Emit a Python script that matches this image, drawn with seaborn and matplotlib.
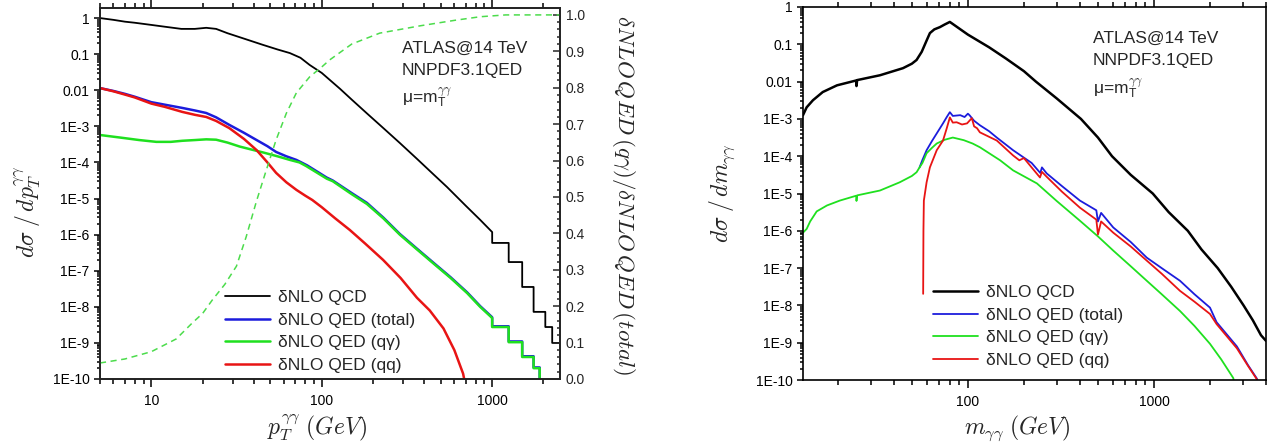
import numpy as np
import matplotlib
matplotlib.use("Agg")
import matplotlib.pyplot as plt
import seaborn as sns
from matplotlib.lines import Line2D
from matplotlib.ticker import (FixedLocator, FixedFormatter, LogLocator,
                               NullFormatter, MultipleLocator, FormatStrFormatter)

# ---------------- data (log10 of the cross sections) ----------------
# left panel: pT spectrum
pt_qcd = [5, 6, 7, 8, 10, 12, 15, 18, 21, 24, 28, 35, 45, 55, 65, 75, 85, 100, 128, 150,
          184, 230, 287, 360, 450, 543, 700, 850, 1000]
qcd_pt_log = [0.0, -0.05, -0.10, -0.13, -0.19, -0.24, -0.30, -0.30, -0.27, -0.30, -0.42,
              -0.57, -0.74, -0.87, -0.97, -1.10, -1.30, -1.52, -1.96, -2.26, -2.64, -3.05,
              -3.46, -3.89, -4.32, -4.68, -5.20, -5.59, -5.93]
qcd_pt_edges = [1000, 1250, 1500, 1750, 2050, 2250, 2500]
qcd_pt_tail = [-6.23, -6.76, -7.45, -8.14, -8.56, -9.0]

pt_qa = [5, 6.8, 8.5, 10.7, 13, 15.2, 18, 21, 24, 28, 33, 40, 45, 55, 65, 74, 81, 95, 107,
         116, 150, 184, 230, 287, 360, 450, 570, 713, 850, 1000]
qa_pt_log = [-3.24, -3.32, -3.38, -3.43, -3.43, -3.40, -3.38, -3.36, -3.37, -3.45, -3.56,
             -3.66, -3.72, -3.83, -3.93, -4.00, -4.10, -4.30, -4.45, -4.52, -4.88, -5.15,
             -5.55, -6.00, -6.40, -6.79, -7.20, -7.62, -8.00, -8.31]
qa_pt_edges = [1000, 1250, 1500, 1750, 1900, 2100]
qa_pt_tail = [-8.56, -8.98, -9.39, -9.70, -10.5]

pt_tot = [5, 6, 7, 8, 10, 12, 15.2, 18, 21, 24, 28.7, 35, 41.5, 48, 54, 62, 71, 82, 93,
          107, 116, 150, 184, 230, 287, 360, 450, 570, 713, 850, 1000]
tot_pt_log = [-1.94, -2.02, -2.10, -2.18, -2.33, -2.40, -2.49, -2.56, -2.63, -2.75, -2.96,
              -3.18, -3.38, -3.55, -3.71, -3.83, -3.93, -4.08, -4.24, -4.42, -4.50, -4.85,
              -5.12, -5.53, -5.98, -6.38, -6.77, -7.18, -7.60, -7.98, -8.29]
tot_pt_edges = [1000, 1250, 1500, 1750, 1900, 2100]
tot_pt_tail = [-8.54, -8.96, -9.37, -9.68, -10.5]

pt_qq = [5, 6, 7, 8, 10, 12, 15.2, 18, 21, 24, 28.7, 35, 41.5, 48, 54, 62, 71, 80, 88,
         100, 120, 146, 180, 229, 290, 362, 430, 518, 600, 675, 720]
qq_pt_log = [-1.94, -2.03, -2.12, -2.20, -2.37, -2.46, -2.60, -2.68, -2.74, -2.85, -3.05,
             -3.35, -3.66, -4.00, -4.29, -4.55, -4.76, -4.92, -5.04, -5.24, -5.55, -5.87,
             -6.25, -6.70, -7.20, -7.75, -8.10, -8.60, -9.20, -9.85, -10.5]

# ratio qγ / total (right axis of the left panel)
pt_ratio = [5, 7, 10, 14, 17.4, 20, 22.8, 27, 31.6, 36, 41.5, 47, 54, 62, 71, 85, 100,
            111, 150, 219, 377, 600, 850, 1200, 2500]
ratio = [0.044, 0.055, 0.075, 0.11, 0.154, 0.18, 0.217, 0.26, 0.31, 0.39, 0.49, 0.57,
         0.657, 0.73, 0.786, 0.83, 0.857, 0.876, 0.92, 0.95, 0.97, 0.985, 0.995, 1.0, 1.0]

# right panel: invariant mass spectrum
m_qcd = [13, 13.6, 14.7, 16.6, 19.8, 25.1, 25.2, 25.4, 33.7, 44.8, 50, 53, 56.5, 60, 62.5,
         66, 70.7, 75, 80, 100, 130, 160, 200, 232, 300, 405, 500, 595, 750, 985, 1200,
         1520, 1800, 2200, 2600, 3030, 3400, 3760, 4000]
qcd_m_log = [-2.90, -2.69, -2.50, -2.28, -2.10, -1.97, -2.12, -1.96, -1.83, -1.64, -1.52,
             -1.42, -1.20, -0.90, -0.70, -0.60, -0.54, -0.47, -0.40, -0.74, -1.08, -1.38,
             -1.72, -2.0, -2.45, -3.0, -3.5, -4.0, -4.5, -5.0, -5.5, -6.0, -6.5, -7.0,
             -7.5, -8.0, -8.4, -8.8, -8.95]

m_qa = [13, 13.6, 14.2, 15.4, 17.5, 20.5, 25.1, 25.2, 25.4, 33.7, 43, 50, 53, 55, 57, 60,
        64, 68, 75, 83, 95, 106, 116, 149, 175, 235, 300, 400, 500, 604, 750, 915, 1100,
        1380, 1650, 2000, 2300, 2670, 2750]
qa_m_log = [-6.05, -5.95, -5.75, -5.48, -5.32, -5.19, -5.06, -5.20, -5.05, -4.92, -4.70,
            -4.53, -4.43, -4.30, -4.18, -3.92, -3.78, -3.66, -3.56, -3.50, -3.57, -3.66,
            -3.76, -4.11, -4.38, -4.73, -5.20, -5.73, -6.15, -6.53, -6.95, -7.34, -7.70,
            -8.15, -8.55, -9.03, -9.45, -9.95, -10.5]

m_tot = [55, 57, 60, 64, 68, 73.5, 77, 80, 83, 91, 96, 100, 102, 108, 116, 130, 143, 175,
         220, 245, 250, 265, 320, 400, 490, 500, 520, 604, 750, 915, 1100, 1380, 1650,
         2000, 2170, 2790, 3200, 3560, 3750, 3900]
tot_m_log = [-4.30, -4.10, -3.84, -3.60, -3.39, -3.12, -2.95, -2.82, -2.92, -2.90, -2.95,
             -2.86, -2.90, -3.05, -3.17, -3.33, -3.50, -3.84, -4.18, -4.45, -4.30, -4.46,
             -4.80, -5.19, -5.45, -5.75, -5.52, -5.91, -6.30, -6.72, -7.00, -7.34, -7.70,
             -8.06, -8.45, -9.10, -9.60, -9.95, -10.2, -10.5]

m_qq = [57.5, 57.7, 58.0, 60, 62.5, 68, 73.5, 77, 80, 83, 87, 93, 99, 105, 108, 112, 116,
        130, 143, 175, 189, 200, 220, 244, 250, 265, 320, 400, 490, 500, 520, 604, 750,
        915, 1100, 1380, 1650, 2000, 2170, 2790, 3200, 3560, 3750, 3900]
qq_m_log = [-7.69, -6.0, -5.19, -4.70, -4.30, -3.84, -3.58, -3.25, -2.96, -3.10, -3.09,
            -3.15, -3.12, -2.98, -3.20, -3.25, -3.36, -3.48, -3.58, -3.98, -4.11, -4.05,
            -4.30, -4.57, -4.42, -4.55, -4.95, -5.38, -5.70, -6.10, -5.75, -6.05, -6.42,
            -6.80, -7.15, -7.61, -7.90, -8.23, -8.50, -9.15, -9.62, -9.97, -10.2, -10.5]

series_labels = ["\u03b4NLO QCD", "\u03b4NLO QED (total)", "\u03b4NLO QED (q\u03b3)",
                 "\u03b4NLO QED (qq)"]
decade_ticks = [1e-10, 1e-9, 1e-8, 1e-7, 1e-6, 1e-5, 1e-4, 1e-3, 1e-2, 1e-1, 1]
decade_labels = ["1E-10", "1E-9", "1E-8", "1E-7", "1E-6", "1E-5", "1E-4", "1E-3",
                 "0.01", "0.1", "1"]
info_lines = ["ATLAS@14 TeV", "NNPDF3.1QED", "\u03bc=m$_\\mathregular{T}^{\\gamma\\gamma}$"]

C_QCD, C_TOT, C_QA, C_QQ = "black", "#1c1cdc", "#1fe01f", "#e81414"

sns.set_style("ticks")
plt.rcParams["font.family"] = ["Liberation Sans", "DejaVu Sans"]
plt.rcParams["mathtext.fontset"] = "cm"
plt.rcParams["axes.linewidth"] = 1.2


def draw(ax, x, logy, color, lw, edges=None, tail=None, **kw):
    xs = list(x)
    ys = [10.0 ** v for v in logy]
    if edges is not None:
        for i, v in enumerate(tail):
            xs += [edges[i], edges[i + 1]]
            ys += [10.0 ** v, 10.0 ** v]
    sns.lineplot(x=xs, y=ys, ax=ax, color=color, lw=lw, estimator=None, sort=False,
                 legend=False, **kw)


def style_log_axes(ax, xmajor, xlim, ylim):
    ax.set_xscale("log")
    ax.set_yscale("log")
    ax.set_xlim(*xlim)
    ax.set_ylim(*ylim)
    ax.yaxis.set_major_locator(FixedLocator(decade_ticks))
    ax.yaxis.set_major_formatter(FixedFormatter(decade_labels))
    ax.yaxis.set_minor_locator(LogLocator(base=10, subs=np.arange(2, 10), numticks=30))
    ax.yaxis.set_minor_formatter(NullFormatter())
    ax.xaxis.set_major_locator(FixedLocator(xmajor))
    ax.xaxis.set_major_formatter(FixedFormatter([str(v) for v in xmajor]))
    ax.xaxis.set_minor_locator(LogLocator(base=10, subs=np.arange(2, 10), numticks=30))
    ax.xaxis.set_minor_formatter(NullFormatter())
    ax.tick_params(axis="both", which="both", direction="out", colors="black",
                   labelsize=10, width=1.1)
    ax.tick_params(axis="x", which="major", length=6, pad=5, top=True)
    ax.tick_params(axis="x", which="minor", length=3.5, top=True)
    ax.tick_params(axis="y", which="major", length=4.5, pad=3)
    ax.tick_params(axis="y", which="minor", length=2.5)
    for s in ax.spines.values():
        s.set_visible(True)
        s.set_color("black")
    ax.set_xlabel("")
    ax.set_ylabel("")


W, H = 1274, 445
fig = plt.figure(figsize=(W / 100, H / 100), dpi=100)
ax1 = fig.add_axes([100 / W, 1 - 379 / H, 460 / W, 371 / H])
ax2 = fig.add_axes([803 / W, 1 - 380 / H, 463 / W, 373 / H])

# ---- left panel ----
draw(ax1, pt_qcd, qcd_pt_log, C_QCD, 1.3, qcd_pt_edges, qcd_pt_tail)
draw(ax1, pt_tot, tot_pt_log, C_TOT, 1.8, tot_pt_edges, tot_pt_tail)
draw(ax1, pt_qa, qa_pt_log, C_QA, 1.8, qa_pt_edges, qa_pt_tail)
draw(ax1, pt_qq, qq_pt_log, C_QQ, 1.8)
style_log_axes(ax1, [10, 100, 1000], (5, 2500), (1e-10, 1.9))

axr = ax1.twinx()
sns.lineplot(x=pt_ratio, y=ratio, ax=axr, color="#4cdc4c", lw=1.1, estimator=None,
             sort=False, legend=False, dashes=False)
axr.lines[0].set_dashes((4, 3))
axr.set_ylim(0, 1.019)
axr.set_xlim(5, 2500)
axr.yaxis.set_major_locator(MultipleLocator(0.1))
axr.yaxis.set_minor_locator(MultipleLocator(0.02))
axr.yaxis.set_major_formatter(FormatStrFormatter("%.1f"))
axr.tick_params(axis="y", which="both", direction="in", labelsize=10, width=1.1, pad=4)
axr.tick_params(axis="y", which="major", length=5)
axr.tick_params(axis="y", which="minor", length=2.5)
axr.set_ylabel("")

# ---- right panel ----
draw(ax2, m_qcd, qcd_m_log, C_QCD, 1.8)
draw(ax2, m_tot, tot_m_log, C_TOT, 1.3)
draw(ax2, m_qa, qa_m_log, C_QA, 1.3)
draw(ax2, m_qq, qq_m_log, C_QQ, 1.3)
style_log_axes(ax2, [100, 1000], (13, 4000), (1e-10, 1))

# ---- legends ----
colors = [C_QCD, C_TOT, C_QA, C_QQ]
h1 = [Line2D([], [], color=c, lw=w) for c, w in zip(colors, [1.3, 1.8, 1.8, 1.8])]
h2 = [Line2D([], [], color=c, lw=w) for c, w in zip(colors, [1.8, 1.3, 1.3, 1.3])]
for ax, hs, x0, y0 in [(axr, h1, 225, 290), (ax2, h2, 933, 285)]:
    ax.legend(hs, series_labels, loc="upper left", bbox_to_anchor=(x0 / W, 1 - y0 / H),
              bbox_transform=fig.transFigure, frameon=False, fontsize=12.5,
              handlelength=2.6, handletextpad=0.45, labelspacing=0.43, borderpad=0,
              borderaxespad=0)

# ---- info text ----
for (x0, ys) in [(402, [48, 70, 97]), (1093, [38, 60, 88])]:
    for txt, yy in zip(info_lines, ys):
        fig.text(x0 / W, 1 - yy / H, txt, fontsize=12.5, va="center", ha="left")

# ---- axis titles ----
fig.text(28 / W, 1 - 212 / H, r"$d\sigma\;/\,dp_T^{\gamma\gamma}$", rotation=90,
         ha="center", va="center", fontsize=17)
fig.text(317 / W, 1 - 428 / H, r"$p_T^{\gamma\gamma}\;(GeV)$", ha="center", va="center",
         fontsize=17)
fig.text(623 / W, 1 - 195 / H,
         r"$\delta NLO\,QED\,(q\gamma)/\delta NLO\,QED\,(total)$", rotation=270,
         ha="center", va="center", fontsize=16.5)
fig.text(722 / W, 1 - 193 / H, r"$d\sigma\;/\,dm_{\gamma\gamma}$", rotation=90,
         ha="center", va="center", fontsize=17)
fig.text(1017 / W, 1 - 428 / H, r"$m_{\gamma\gamma}\;(GeV)$", ha="center", va="center",
         fontsize=17)

fig.savefig("out.png", dpi=100)
